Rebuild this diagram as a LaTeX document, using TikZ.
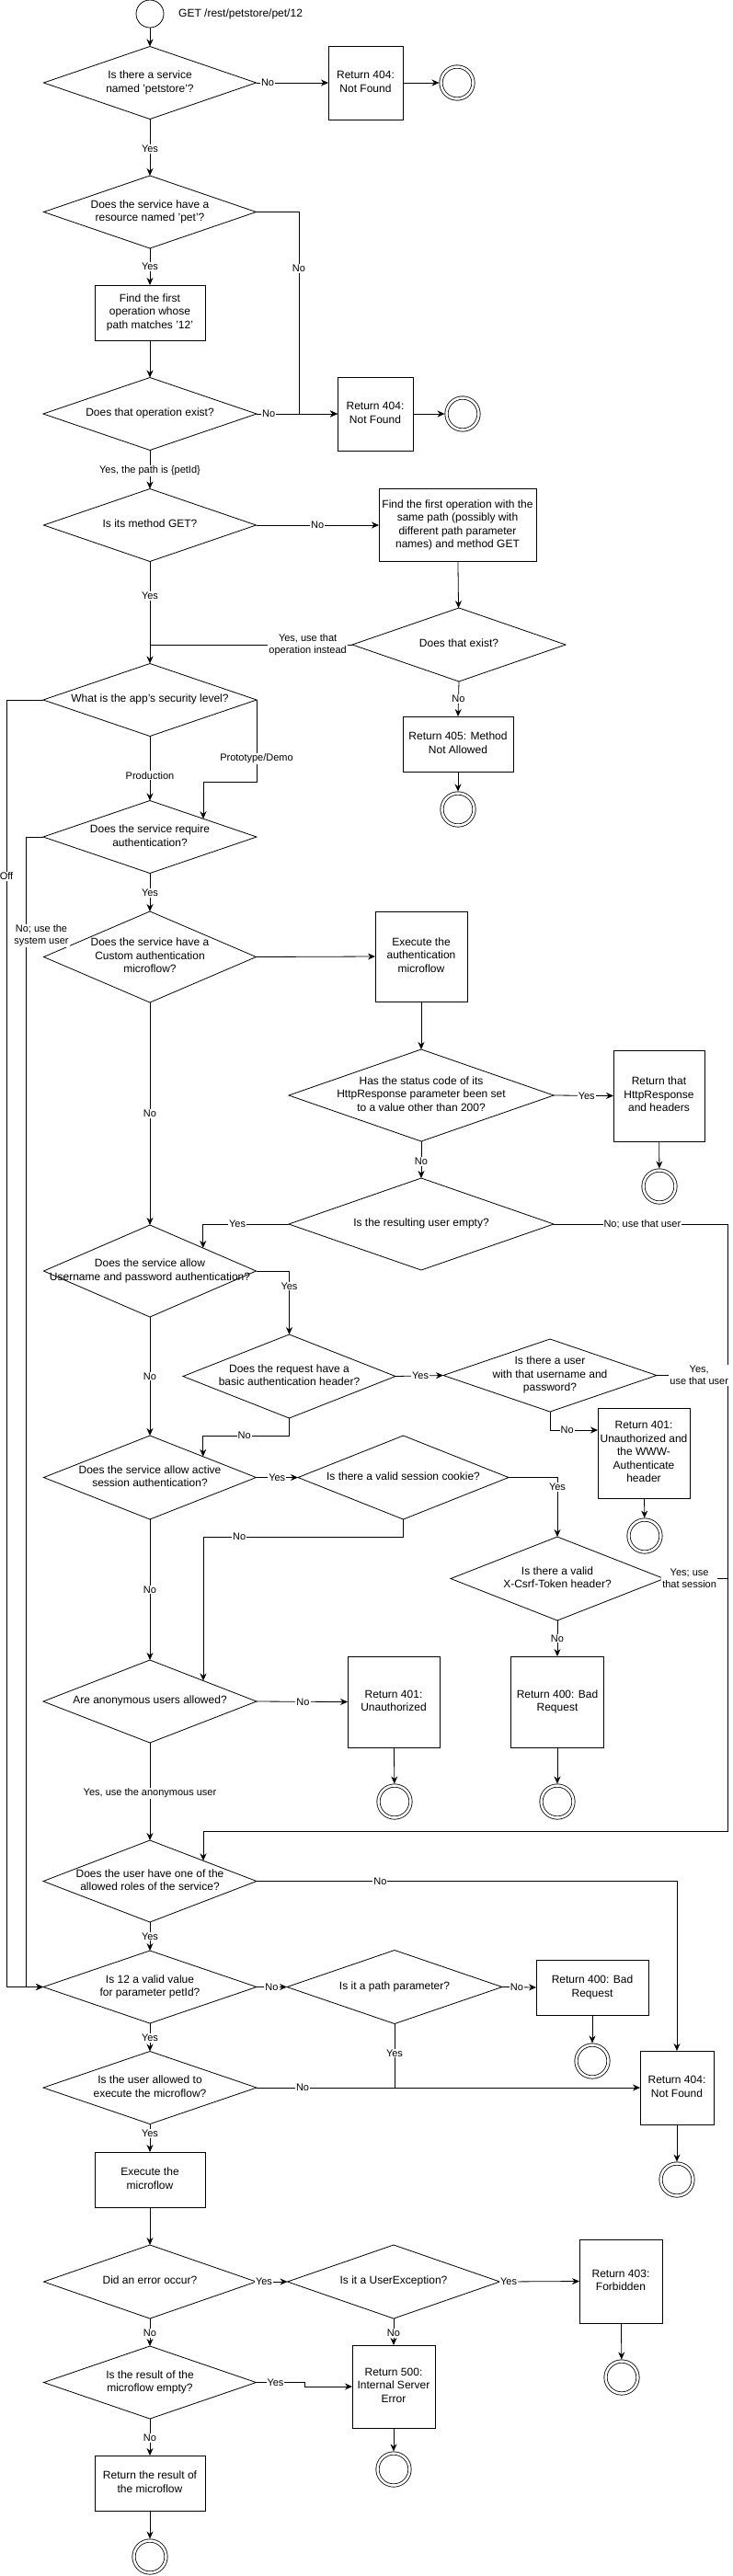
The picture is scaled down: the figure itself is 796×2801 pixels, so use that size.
\documentclass[tikz,border=0pt]{standalone}
\usepackage{fontspec}
\setmainfont{Liberation Sans}
\usetikzlibrary{shapes.geometric,arrows.meta,calc}
\newcommand\zc[1]{\hbox to 0pt{\hss\vbox to 0pt{\vss\hbox{\begin{tabular}{@{}c@{}}#1\end{tabular}}\vss}\hss}}
\newcommand\sq{\char39\relax}
\begin{document}
\begin{tikzpicture}[x=1pt,y=-1pt,
  dia/.style={diamond, draw, inner sep=0pt, outer sep=0pt, line width=0.8pt, font=\fontsize{12}{14.5}\selectfont},
  box/.style={rectangle, draw, inner sep=0pt, outer sep=0pt, line width=0.8pt, font=\fontsize{12}{14.5}\selectfont},
  startc/.style={circle, draw, line width=0.8pt, minimum size=30pt, inner sep=0pt},
  endc/.style={circle, draw, line width=0.8pt, double, double distance=2.5pt, minimum size=35pt, inner sep=0pt, outer sep=2pt},
  arr/.style={-{Stealth[length=8pt,width=7pt]}, line width=0.8pt},
  ln/.style={line width=0.8pt},
  lbl/.style={fill=white, inner sep=1pt, font=\fontsize{11}{13}\selectfont, align=center}]
\fill[white] (0,0) rectangle (796,2801);
\useasboundingbox (0,0) rectangle (796,2801);

% ---------- nodes ----------
\node[startc] (st) at (163,15) {};
\node[anchor=west, inner sep=0pt, font=\fontsize{12}{14}\selectfont] (stlbl) at (194,15) {GET /rest/petstore/pet/12};

\node[dia, minimum width=231pt, minimum height=79pt] (d1) at (163,90) {\zc{Is there a service\\named \sq petstore\sq ?}};
\node[box, minimum width=81pt, minimum height=80pt] (r1) at (397.5,90) {\zc{Return 404:\\Not Found}};
\node[endc] (e1) at (497,90) {};

\node[dia, minimum width=231pt, minimum height=79pt] (d2) at (163,230.5) {\zc{Does the service have a\\resource named \sq pet\sq ?}};
\node[box, minimum width=120pt, minimum height=60pt] (b1) at (163,340) {\zc{Find the first\\operation whose\\path matches \sq 12\sq}};
\node[dia, minimum width=232pt, minimum height=79pt] (d3) at (163,450) {\zc{Does that operation exist?}};
\node[box, minimum width=82pt, minimum height=80pt] (r2) at (408,450) {\zc{Return 404:\\Not Found}};
\node[endc] (e2) at (503,450) {};

\node[dia, minimum width=231pt, minimum height=79pt] (d4) at (163,571) {\zc{Is its method GET?}};
\node[box, minimum width=171pt, minimum height=79pt] (b2) at (497.5,571) {\zc{Find the first operation with the\\same path (possibly with\\different path parameter\\names) and method GET}};
\node[dia, minimum width=232pt, minimum height=80pt] (d5) at (499,701) {\zc{Does that exist?}};
\node[box, minimum width=120pt, minimum height=60pt] (r3) at (498,809) {\zc{Return 405: Method\\Not Allowed}};
\node[endc] (e3) at (498,880) {};

\node[dia, minimum width=232pt, minimum height=79pt] (d6) at (163,761) {\zc{What is the app\sq s security level?}};
\node[dia, minimum width=232pt, minimum height=79pt] (d7) at (163,910) {\zc{Does the service require\\authentication?}};
\node[dia, minimum width=231pt, minimum height=99pt] (d8) at (163,1040.5) {\zc{Does the service have a\\Custom authentication\\microflow?}};
\node[box, minimum width=100pt, minimum height=98pt] (b3) at (458,1040) {\zc{Execute the\\authentication\\microflow}};
\node[dia, minimum width=288pt, minimum height=100pt] (d9) at (458,1191) {\zc{Has the status code of its\\HttpResponse parameter been set\\to a value other than 200?}};
\node[box, minimum width=99pt, minimum height=99pt] (b4) at (716.5,1191.5) {\zc{Return that\\HttpResponse\\and headers}};
\node[endc] (e4) at (717,1290) {};
\node[dia, minimum width=288pt, minimum height=100pt] (d10) at (458,1331) {\zc{Is the resulting user empty?}};

\node[dia, minimum width=231pt, minimum height=100pt] (d11) at (163,1382) {\zc{Does the service allow\\Username and password authentication?}};
\node[dia, minimum width=231pt, minimum height=91pt] (d12) at (314.5,1496.5) {\zc{Does the request have a\\basic authentication header?}};
\node[dia, minimum width=232pt, minimum height=79pt] (d15) at (598,1495.5) {\zc{Is there a user\\with that username and\\password?}};
\node[box, minimum width=100pt, minimum height=98pt] (r5) at (700,1580) {\zc{Return 401:\\Unauthorized and\\the WWW-\\Authenticate\\header}};
\node[endc] (e5) at (701,1670) {};

\node[dia, minimum width=231pt, minimum height=91pt] (d13) at (163,1606.5) {\zc{Does the service allow active\\session authentication?}};
\node[dia, minimum width=229pt, minimum height=91pt] (d16) at (438.5,1606.5) {\zc{Is there a valid session cookie?}};
\node[dia, minimum width=232pt, minimum height=91pt] (d17) at (606,1716.5) {\zc{Is there a valid\\X-Csrf-Token header?}};
\node[box, minimum width=101pt, minimum height=99pt] (r6) at (606,1850.5) {\zc{Return 400: Bad\\Request}};
\node[endc] (e6) at (606,1959) {};

\node[dia, minimum width=232pt, minimum height=90pt] (d18) at (163,1850) {\zc{Are anonymous users allowed?}};
\node[box, minimum width=100pt, minimum height=99pt] (r7) at (428,1850.5) {\zc{Return 401:\\Unauthorized}};
\node[endc] (e7) at (429,1959) {};

\node[dia, minimum width=232pt, minimum height=89pt] (d14) at (163,2045.5) {\zc{Does the user have one of the\\allowed roles of the service?}};
\node[dia, minimum width=232pt, minimum height=79pt] (d19) at (163,2160.5) {\zc{Is 12 a valid value\\for parameter petId?}};
\node[dia, minimum width=234pt, minimum height=80pt] (d20) at (429,2160.5) {\zc{Is it a path parameter?}};
\node[box, minimum width=122pt, minimum height=60pt] (r9) at (644,2161) {\zc{Return 400: Bad\\Request}};
\node[endc] (e9) at (644,2241) {};
\node[box, minimum width=80pt, minimum height=80pt] (r8) at (736,2270) {\zc{Return 404:\\Not Found}};
\node[endc] (e8) at (736,2370) {};
\node[dia, minimum width=232pt, minimum height=79pt] (d21) at (163,2270) {\zc{Is the user allowed to\\execute the microflow?}};

\node[box, minimum width=120pt, minimum height=60pt] (b10) at (163,2370) {\zc{Execute the\\microflow}};
\node[dia, minimum width=231pt, minimum height=80pt] (d22) at (163,2481) {\zc{Did an error occur?}};
\node[dia, minimum width=231pt, minimum height=80pt] (d23) at (428,2481) {\zc{Is it a UserException?}};
\node[box, minimum width=90pt, minimum height=91pt] (r11) at (675,2480.5) {\zc{Return 403:\\Forbidden}};
\node[endc] (e11) at (676,2585) {};
\node[box, minimum width=90pt, minimum height=90pt] (r12) at (428,2595) {\zc{Return 500:\\Internal Server\\Error}};
\node[endc] (e12) at (428,2685) {};
\node[dia, minimum width=231pt, minimum height=79pt] (d24) at (163,2590.5) {\zc{Is the result of the\\microflow empty?}};
\node[box, minimum width=120pt, minimum height=60pt] (b13) at (163,2700) {\zc{Return the result of\\the microflow}};
\node[endc] (e13) at (163,2780) {};

% ---------- helper coordinates ----------
\coordinate (j1) at (325,450);
\coordinate (yProto) at (0,850);
\coordinate (xOff) at (7,0);
\coordinate (xNo) at (28,0);
\coordinate (bus1) at (791,1331);
\coordinate (bus2) at (791,1991);
\coordinate (y1561) at (0,1561);
\coordinate (y1671) at (0,1671);
\coordinate (xJ) at (331,0);

% ---------- connectors ----------
\draw[arr] (st) -- (d1);
\draw[arr] (d1.east) -- node[lbl,pos=.16]{No} (r1.west);
\draw[arr] (r1.east) -- (e1);
\draw[arr] (d1.south) -- node[lbl,pos=.53]{Yes} (d2.north);

\draw[arr] (d2.east) -| node[lbl,pos=.64]{No} (j1) -- (r2.west);
\draw[arr] (d2.south) -- node[lbl,pos=.5]{Yes} (b1.north);
\draw[arr] (b1) -- (d3);
\draw[arr] (d3.east) -- node[lbl,pos=.15]{No} (r2.west);
\draw[arr] (r2.east) -- (e2);
\draw[arr] (d3.south) -- node[lbl,pos=.53]{Yes, the path is \{petId\}} (d4.north);

\draw[arr] (d4.east) -- node[lbl,pos=.5]{No} (b2.west);
\draw[arr] (b2) -- (d5);
\draw[ln] (d5.west) -- node[lbl,pos=.22]{Yes, use that\\operation instead} (d5.west -| d4.south);
\draw[arr] (d4.south) -- node[lbl,pos=.34]{Yes} (d6.north);
\draw[arr] (d5.south) -- node[lbl,pos=.5]{No} (r3.north);
\draw[arr] (r3) -- (e3);

\draw[arr] (d6.west) -- (d6.west -| xOff) -- node[lbl,pos=.137]{Off} (xOff |- d19.west) -- (d19.west);
\draw[arr] (d6.east) -- node[lbl,pos=.72]{Prototype/Demo} (d6.east |- yProto) -| (d7.north east);
\draw[arr] (d6.south) -- node[lbl,pos=.61]{Production} (d7.north);
\draw[arr] (d7.west) -- (d7.west -| xNo) -- node[lbl,pos=.086,xshift=17pt]{No; use the\\system user} (xNo |- d19.west) -- (d19.west);
\draw[arr] (d7.south) -- node[lbl,pos=.52]{Yes} (d8.north);

\draw[arr] (d8.east) -- (b3.west);
\draw[arr] (b3) -- (d9);
\draw[arr] (d9.east) -- node[lbl,pos=.55]{Yes} (b4.west);
\draw[arr] (b4) -- (e4);
\draw[arr] (d9.south) -- node[lbl,pos=.55]{No} (d10.north);
\draw[arr] (d10.west) -| node[lbl,pos=.3]{Yes} (d11.north east);
\draw[arr] (d10.east) -- node[lbl,pos=.51]{No; use that user} (bus1) -- (bus2) -| (d14.north east);
\draw[arr] (d8.south) -- node[lbl,pos=.5]{No} (d11.north);

\draw[arr] (d11.east) -| node[lbl,pos=.62]{Yes} (d12.north);
\draw[arr] (d11.south) -- node[lbl,pos=.5]{No} (d13.north);
\draw[arr] (d12.east) -- node[lbl,pos=.52]{Yes} (d15.west);
\draw[ln] (d15.east) -- node[lbl,pos=.6]{Yes,\\use that user} (d15.east -| bus1);
\draw[arr] (d15.south) |- node[lbl,pos=.68]{No} ([yshift=25pt]r5.west);
\draw[arr] (r5) -- (e5);
\draw[arr] (d12.south) -- (d12.south |- y1561) -| node[lbl,pos=.26]{No} (d13.north east);

\draw[arr] (d13.east) -- node[lbl,pos=.5]{Yes} (d16.west);
\draw[arr] (d16.east) -| node[lbl,pos=.58]{Yes} (d17.north);
\draw[arr] (d16.south) -- (d16.south |- y1671) -| node[lbl,pos=.41]{No} (d18.north east);
\draw[ln] (d17.east) -- node[lbl,pos=.4]{Yes; use\\that session} (d17.east -| bus1);
\draw[arr] (d17.south) -- node[lbl,pos=.5]{No} (r6.north);
\draw[arr] (r6) -- (e6);
\draw[arr] (d13.south) -- node[lbl,pos=.5]{No} (d18.north);

\draw[arr] (d18.east) -- node[lbl,pos=.51]{No} (r7.west);
\draw[arr] (r7) -- (e7);
\draw[arr] (d18.south) -- node[lbl,pos=.52]{Yes, use the anonymous user} (d14.north);

\draw[arr] (d14.east) -| node[lbl,pos=.147]{No} (r8.north);
\draw[arr] (d14.south) -- node[lbl,pos=.5]{Yes} (d19.north);
\draw[arr] (d19.east) -- node[lbl,pos=.5]{No} (d20.west);
\draw[arr] (d20.east) -- node[lbl,pos=.43]{No} (r9.west);
\draw[arr] (r9) -- (e9);
\draw[ln] (d20.south) -- node[lbl,pos=.46]{Yes} (d20.south |- r8.west);
\draw[arr] (d21.east) -- node[lbl,pos=.12]{No} (r8.west);
\draw[arr] (r8) -- (e8);
\draw[arr] (d19.south) -- node[lbl,pos=.53]{Yes} (d21.north);

\draw[arr] (d21.south) -- node[lbl,pos=.35]{Yes} (b10.north);
\draw[arr] (b10) -- (d22);
\draw[arr] (d22.east) -- node[lbl,pos=.25]{Yes} (d23.west);
\draw[arr] (d23.east) -- node[lbl,pos=.11]{Yes} (r11.west);
\draw[arr] (r11) -- (e11);
\draw[arr] (d22.south) -- node[lbl,pos=.53]{No} (d24.north);
\draw[arr] (d23.south) -- node[lbl,pos=.55]{No} (r12.north);
\draw[arr] (r12) -- (e12);
\draw[arr] (d24.east) -- node[lbl,pos=.4]{Yes} (d24.east -| xJ) |- (r12.west);
\draw[arr] (d24.south) -- node[lbl,pos=.53]{No} (b13.north);
\draw[arr] (b13) -- (e13);
\end{tikzpicture}
\end{document}
